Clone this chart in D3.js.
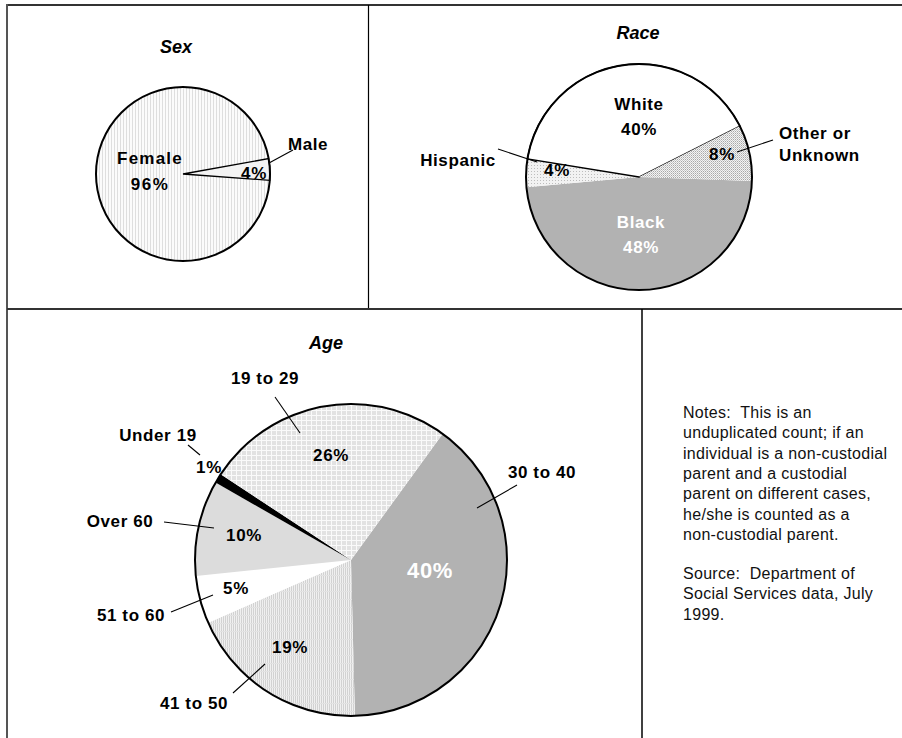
<!DOCTYPE html>
<html>
<head>
<meta charset="utf-8">
<script src="https://cdn.jsdelivr.net/npm/d3@7"></script>
<style>
  html, body { margin: 0; padding: 0; background: #fff; }
  svg { display: block; font-family: "Liberation Sans", Arial, Helvetica, sans-serif; }
  text { white-space: pre; }
</style>
</head>
<body>
<svg id="chart" width="902" height="738"></svg>
<script>
// ---- data ----
const sexCategories = ["Female", "Male"];
const sexValues = [96, 4];

const raceCategories = ["Black", "Hispanic", "White", "Other or Unknown"];
const raceValues = [48, 4, 40, 8];

const ageCategories = ["30 to 40", "41 to 50", "51 to 60", "Over 60", "Under 19", "19 to 29"];
const ageValues = [40, 19, 5, 10, 1, 26];

const noteLines = [
  "Notes:  This is an",
  "unduplicated count; if an",
  "individual is a non-custodial",
  "parent and a custodial",
  "parent on different cases,",
  "he/she is counted as a",
  "non-custodial parent."
];
const sourceLines = [
  "Source:  Department of",
  "Social Services data, July",
  "1999."
];

// ---- drawing ----
const svg = d3.select("#chart");
svg.append("rect").attr("width", 902).attr("height", 738).attr("fill", "#fff");

const defs = svg.append("defs");

// vertical fine stripes
const pStripe = defs.append("pattern").attr("id", "stripe")
  .attr("patternUnits", "userSpaceOnUse").attr("width", 3).attr("height", 3);
pStripe.append("rect").attr("width", 3).attr("height", 3).attr("fill", "#fbfbfb");
pStripe.append("rect").attr("width", 1).attr("height", 3).attr("fill", "#dedede");

// dense stripes with faint cross lines
const pFine = defs.append("pattern").attr("id", "fine")
  .attr("patternUnits", "userSpaceOnUse").attr("width", 2).attr("height", 8);
pFine.append("rect").attr("width", 2).attr("height", 8).attr("fill", "#f0f0f0");
pFine.append("rect").attr("width", 1).attr("height", 8).attr("fill", "#d2d2d2");
pFine.append("rect").attr("y", 7).attr("width", 2).attr("height", 1).attr("fill", "#e2e2e2");

// light dots
const pDotLight = defs.append("pattern").attr("id", "dotLight")
  .attr("patternUnits", "userSpaceOnUse").attr("width", 3).attr("height", 3);
pDotLight.append("rect").attr("width", 3).attr("height", 3).attr("fill", "#f2f2f2");
pDotLight.append("rect").attr("width", 1).attr("height", 1).attr("fill", "#bdbdbd");

// dense dots
const pDotDense = defs.append("pattern").attr("id", "dotDense")
  .attr("patternUnits", "userSpaceOnUse").attr("width", 2).attr("height", 2);
pDotDense.append("rect").attr("width", 2).attr("height", 2).attr("fill", "#f4f4f4");
pDotDense.append("rect").attr("width", 1).attr("height", 1).attr("fill", "#a8a8a8");
pDotDense.append("rect").attr("x", 1).attr("y", 1).attr("width", 1).attr("height", 1).attr("fill", "#c8c8c8");

// light grid
const pGrid = defs.append("pattern").attr("id", "grid")
  .attr("patternUnits", "userSpaceOnUse").attr("width", 5).attr("height", 5);
pGrid.append("rect").attr("width", 5).attr("height", 5).attr("fill", "#e2e2e2");
pGrid.append("rect").attr("width", 1).attr("height", 5).attr("fill", "#fafafa");
pGrid.append("rect").attr("width", 5).attr("height", 1).attr("fill", "#fafafa");

// panel frame
const frame = svg.append("g").attr("stroke", "#333").attr("fill", "none");
frame.append("line").attr("x1", 7).attr("x2", 902).attr("y1", 5).attr("y2", 5).attr("stroke-width", 2);
frame.append("line").attr("x1", 7).attr("x2", 7).attr("y1", 4).attr("y2", 738).attr("stroke-width", 2).attr("stroke", "#555");
frame.append("line").attr("x1", 7).attr("x2", 902).attr("y1", 309).attr("y2", 309).attr("stroke-width", 2.2);
frame.append("line").attr("x1", 368.5).attr("x2", 368.5).attr("y1", 5).attr("y2", 308).attr("stroke-width", 1.2).attr("stroke", "#000");
frame.append("line").attr("x1", 642).attr("x2", 642).attr("y1", 309).attr("y2", 738).attr("stroke-width", 1.5).attr("stroke", "#000");

const deg = Math.PI / 180;

function drawPie(cfg) {
  const g = svg.append("g").attr("transform", `translate(${cfg.cx},${cfg.cy})`);
  const data = cfg.categories.map((c, i) => ({ cat: c, value: cfg.values[i] }));
  const pie = d3.pie().value(d => d.value).sort(null)
    .startAngle(cfg.start * deg).endAngle(cfg.start * deg + 2 * Math.PI);
  const arc = d3.arc().innerRadius(0).outerRadius(cfg.r);
  const arcs = pie(data);

  g.selectAll("path.slice").data(arcs).join("path")
    .attr("class", "slice")
    .attr("d", arc)
    .attr("fill", d => cfg.fills[d.data.cat])
    .attr("stroke", d => cfg.outlined.includes(d.data.cat) ? "#000" : "none")
    .attr("stroke-width", 1.3)
    .attr("stroke-linejoin", "miter");

  g.append("circle").attr("r", cfg.r).attr("fill", "none")
    .attr("stroke", "#000").attr("stroke-width", 2);

  // title
  svg.append("text").attr("x", cfg.title.x).attr("y", cfg.title.y + 6)
    .attr("text-anchor", "middle").attr("font-size", 18)
    .attr("font-weight", "bold").attr("font-style", "italic")
    .attr("fill", "#000").text(cfg.title.text);

  // leader lines
  cfg.leaders.forEach(l => {
    svg.append("line").attr("x1", l[0]).attr("y1", l[1]).attr("x2", l[2]).attr("y2", l[3])
      .attr("stroke", "#000").attr("stroke-width", 1.1);
  });

  // labels: percent text is built from the slice value
  arcs.forEach(a => {
    const lay = cfg.labels[a.data.cat];
    lay.forEach(t => {
      const txt = t.kind === "pct" ? a.data.value + "%" : t.text;
      svg.append("text")
        .attr("x", t.x).attr("y", t.y + (t.size || 17) * 0.36)
        .attr("text-anchor", t.anchor || "middle")
        .attr("font-size", t.size || 17)
        .attr("font-weight", "bold")
        .attr("letter-spacing", t.ls != null ? t.ls : 0.6)
        .attr("fill", t.color || "#000")
        .text(txt);
    });
  });
}

// Sex
drawPie({
  cx: 183, cy: 174, r: 87, start: 94.2,
  categories: sexCategories, values: sexValues,
  fills: { "Female": "url(#stripe)", "Male": "#f3f3f3" },
  outlined: ["Male"],
  title: { text: "Sex", x: 176, y: 47 },
  leaders: [[269, 163, 293, 150]],
  labels: {
    "Female": [{ text: "Female", x: 150, y: 158, ls: 1.2 }, { kind: "pct", x: 150, y: 184, ls: 1.5 }],
    "Male": [{ text: "Male", x: 308, y: 144 }, { kind: "pct", x: 254, y: 173 }]
  }
});

// Race
drawPie({
  cx: 639, cy: 177, r: 113, start: 92,
  categories: raceCategories, values: raceValues,
  fills: { "Black": "#b2b2b2", "Hispanic": "url(#dotLight)", "White": "#ffffff", "Other or Unknown": "url(#dotDense)" },
  outlined: ["White"],
  title: { text: "Race", x: 638, y: 33 },
  leaders: [[498, 149, 537, 162], [737, 152, 773, 140]],
  labels: {
    "Black": [{ text: "Black", x: 641, y: 222, color: "#fff" }, { kind: "pct", x: 641, y: 247, color: "#fff" }],
    "Hispanic": [{ text: "Hispanic", x: 458, y: 160 }, { kind: "pct", x: 557, y: 170 }],
    "White": [{ text: "White", x: 639, y: 104 }, { kind: "pct", x: 639, y: 129 }],
    "Other or Unknown": [
      { text: "Other or", x: 779, y: 133, anchor: "start" },
      { text: "Unknown", x: 779, y: 155, anchor: "start" },
      { kind: "pct", x: 722, y: 154 }
    ]
  }
});

// Age
drawPie({
  cx: 351, cy: 560, r: 156, start: 36,
  categories: ageCategories, values: ageValues,
  fills: {
    "30 to 40": "#b2b2b2", "41 to 50": "url(#fine)", "51 to 60": "#ffffff",
    "Over 60": "#dcdcdc", "Under 19": "#000000", "19 to 29": "url(#grid)"
  },
  outlined: [],
  title: { text: "Age", x: 326, y: 343 },
  leaders: [
    [275, 397, 300, 433], [188, 445, 200, 455], [164, 522, 214, 528],
    [171, 612, 213, 595], [233, 693, 265, 664], [517, 485, 477, 508]
  ],
  labels: {
    "30 to 40": [{ text: "30 to 40", x: 542, y: 472 }, { kind: "pct", x: 430, y: 570, size: 22, color: "#fff" }],
    "41 to 50": [{ text: "41 to 50", x: 194, y: 703 }, { kind: "pct", x: 290, y: 647 }],
    "51 to 60": [{ text: "51 to 60", x: 131, y: 615 }, { kind: "pct", x: 236, y: 588 }],
    "Over 60": [{ text: "Over 60", x: 120, y: 521 }, { kind: "pct", x: 244, y: 535 }],
    "Under 19": [{ text: "Under 19", x: 158, y: 435 }, { kind: "pct", x: 209, y: 467 }],
    "19 to 29": [{ text: "19 to 29", x: 265, y: 378 }, { kind: "pct", x: 331, y: 455 }]
  }
});

// notes
const notes = svg.append("g").attr("font-size", 16).attr("letter-spacing", 0.3).attr("fill", "#111");
noteLines.forEach((t, i) => {
  notes.append("text").attr("x", 683).attr("y", 418 + i * 20.3).text(t);
});
sourceLines.forEach((t, i) => {
  notes.append("text").attr("x", 683).attr("y", 579 + i * 20.3).text(t);
});
</script>
</body>
</html>
